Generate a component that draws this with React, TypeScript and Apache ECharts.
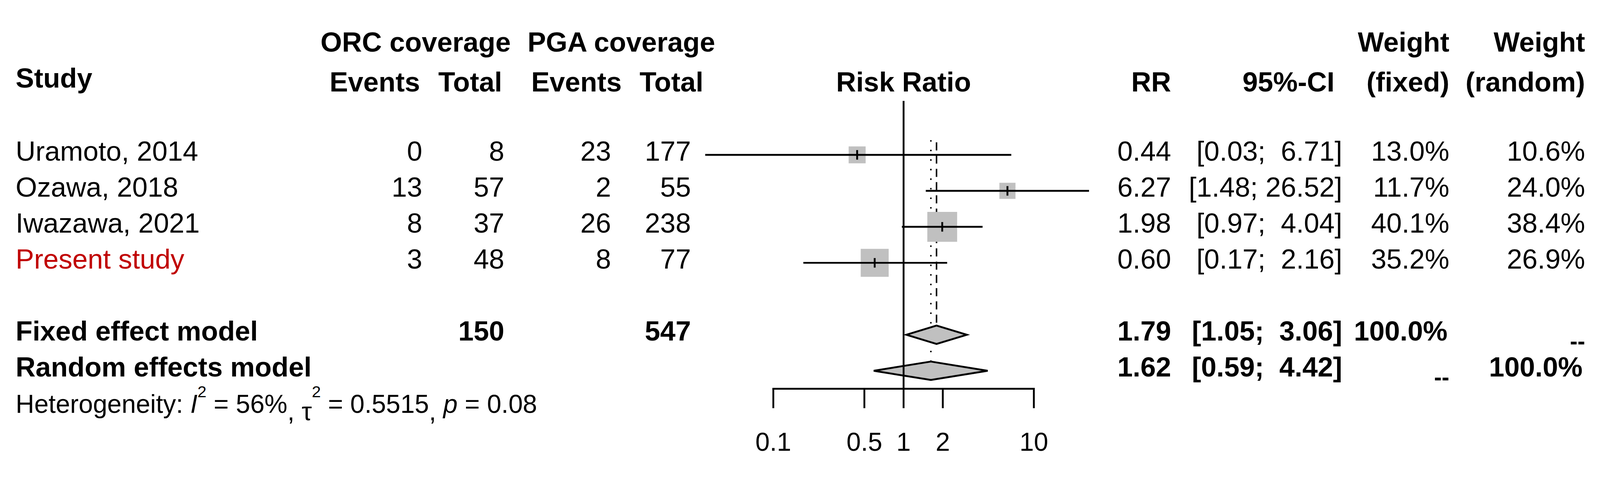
import React, { useEffect, useRef } from "react";
import * as echarts from "echarts";

// ---------------- data ----------------
const studies = ["Uramoto, 2014", "Ozawa, 2018", "Iwazawa, 2021", "Present study"];
const studyColors = ["#000000", "#000000", "#000000", "#c00000"];
const orcEvents = [0, 13, 8, 3];
const orcTotal = [8, 57, 37, 48];
const pgaEvents = [23, 2, 26, 8];
const pgaTotal = [177, 55, 238, 77];
const riskRatio = [0.44, 6.27, 1.98, 0.6];
const ciLower = [0.03, 1.48, 0.97, 0.17];
const ciUpper = [6.71, 26.52, 4.04, 2.16];
const weightFixed = [13.0, 11.7, 40.1, 35.2];
const weightRandom = [10.6, 24.0, 38.4, 26.9];

const modelLabels = ["Fixed effect model", "Random effects model"];
const modelRR = [1.79, 1.62];
const modelLower = [1.05, 0.59];
const modelUpper = [3.06, 4.42];
const modelWeightFixed = ["100.0%", "--"];
const modelWeightRandom = ["--", "100.0%"];
const totalORC = 150;
const totalPGA = 547;

const axisTicks = [0.1, 0.5, 1, 2, 10];
const axisTickLabels = ["0.1", "0.5", "1", "2", "10"];
const nullValue = 1;

const hetI2 = "56%";
const hetTau2 = "0.5515";
const hetP = "0.08";

// ---------------- layout (reference pixels, 4348 x 1261) ----------------
const REF_W = 4348;
const REF_H = 1261;
const FONT = '"Liberation Sans", Arial, Helvetica, sans-serif';
const NB = "\u00a0";
const studyRows = [0, 1, 2, 3];
const modelRows = [5, 6];
const ROW_GROUP = -3.03;
const ROW_HEAD = -1.92;
const ROW_STUDY_HEAD = -2.03;
const ROW_HET = 7.02;
const AXIS_ROW = 6.5;
const TICK_END = 7.04;
const TICK_LABEL_ROW = 7.97;
const TEXT_DY = -10;
const DASH_DY = 27;
const DASH_FS = 62;

const COL = {
  study: 34,
  orcEv: 1139,
  orcTot: 1362,
  pgaEv: 1652,
  pgaTot: 1869,
  orcHdrEv: 1133,
  orcHdrTot: 1356,
  pgaHdrEv: 1681,
  pgaHdrTot: 1903,
  orcGroup: 1121,
  pgaGroup: 1680,
  riskRatio: 2447,
  rr: 3174,
  ci: 3639,
  ciHdr: 3618,
  wf: 3930,
  wr: 4299,
  wfBold: 3925,
  wrBold: 4292,
};

function padNB(s: string, n: number) {
  let r = s;
  while (r.length < n) r = NB + r;
  return r;
}
function fmtCI(lo: number, hi: number) {
  return "[" + padNB(lo.toFixed(2), 4) + ";" + NB + padNB(hi.toFixed(2), 5) + "]";
}

type Cell = {
  text: string;
  x: number;
  align: "left" | "right" | "center";
  row: number;
  bold?: boolean;
  color?: string;
  dy?: number;
  size?: number;
  het?: boolean;
};

const cells: Cell[] = [];
cells.push({ text: "ORC coverage", x: COL.orcGroup, align: "center", row: ROW_GROUP, bold: true });
cells.push({ text: "PGA coverage", x: COL.pgaGroup, align: "center", row: ROW_GROUP, bold: true });
cells.push({ text: "Weight", x: COL.wf, align: "right", row: ROW_GROUP, bold: true });
cells.push({ text: "Weight", x: COL.wr, align: "right", row: ROW_GROUP, bold: true });
cells.push({ text: "Study", x: COL.study, align: "left", row: ROW_STUDY_HEAD, bold: true });
cells.push({ text: "Events", x: COL.orcHdrEv, align: "right", row: ROW_HEAD, bold: true });
cells.push({ text: "Total", x: COL.orcHdrTot, align: "right", row: ROW_HEAD, bold: true });
cells.push({ text: "Events", x: COL.pgaHdrEv, align: "right", row: ROW_HEAD, bold: true });
cells.push({ text: "Total", x: COL.pgaHdrTot, align: "right", row: ROW_HEAD, bold: true });
cells.push({ text: "Risk Ratio", x: COL.riskRatio, align: "center", row: ROW_HEAD, bold: true });
cells.push({ text: "RR", x: COL.rr, align: "right", row: ROW_HEAD, bold: true });
cells.push({ text: "95%-CI", x: COL.ciHdr, align: "right", row: ROW_HEAD, bold: true });
cells.push({ text: "(fixed)", x: COL.wf, align: "right", row: ROW_HEAD, bold: true });
cells.push({ text: "(random)", x: COL.wr, align: "right", row: ROW_HEAD, bold: true });

studies.forEach((s, i) => {
  const r = studyRows[i];
  cells.push({ text: s, x: COL.study, align: "left", row: r, color: studyColors[i] });
  cells.push({ text: String(orcEvents[i]), x: COL.orcEv, align: "right", row: r });
  cells.push({ text: String(orcTotal[i]), x: COL.orcTot, align: "right", row: r });
  cells.push({ text: String(pgaEvents[i]), x: COL.pgaEv, align: "right", row: r });
  cells.push({ text: String(pgaTotal[i]), x: COL.pgaTot, align: "right", row: r });
  cells.push({ text: riskRatio[i].toFixed(2), x: COL.rr, align: "right", row: r });
  cells.push({ text: fmtCI(ciLower[i], ciUpper[i]), x: COL.ci, align: "right", row: r });
  cells.push({ text: weightFixed[i].toFixed(1) + "%", x: COL.wf, align: "right", row: r });
  cells.push({ text: weightRandom[i].toFixed(1) + "%", x: COL.wr, align: "right", row: r });
});

modelLabels.forEach((m, i) => {
  const r = modelRows[i];
  cells.push({ text: m, x: COL.study, align: "left", row: r, bold: true });
  cells.push({ text: modelRR[i].toFixed(2), x: COL.rr, align: "right", row: r, bold: true });
  cells.push({ text: fmtCI(modelLower[i], modelUpper[i]), x: COL.ci, align: "right", row: r, bold: true });
  const wf = modelWeightFixed[i];
  const wr = modelWeightRandom[i];
  const dashF = wf === "--";
  const dashR = wr === "--";
  cells.push({ text: wf, x: dashF ? COL.wf : COL.wfBold, align: "right", row: r, bold: true, dy: dashF ? DASH_DY : 0, size: dashF ? DASH_FS : undefined });
  cells.push({ text: wr, x: dashR ? COL.wr : COL.wrBold, align: "right", row: r, bold: true, dy: dashR ? DASH_DY : 0, size: dashR ? DASH_FS : undefined });
});
cells.push({ text: String(totalORC), x: COL.orcTot, align: "right", row: modelRows[0], bold: true });
cells.push({ text: String(totalPGA), x: COL.pgaTot, align: "right", row: modelRows[0], bold: true });

cells.push({
  text:
    "{n|Heterogeneity:" + NB + "}{i|I}{s|2}{n|" + NB + "=" + NB + hetI2 + "}{c|,}{n|" + NB + "}{t|τ}{s|2}{n|" +
    NB + "=" + NB + hetTau2 + "}{c|,}{n|" + NB + "}{i|p}{n|" + NB + "=" + NB + hetP + "}",
  x: COL.study,
  align: "left",
  row: ROW_HET,
  het: true,
});

// ---------------- chart ----------------
const X_ONE = 2447;
const DECADE = 354;
const Y_ZERO = 412;
const ROW_H = 97.7;
const Y_MIN = -4;
const Y_MAX = 8.5;
const SQUARE_K = 12.8;
const LW = 5;
const FS = 75;

function buildOption(s: number) {
  const lw = LW * s;
  const hetRich = {
    n: { fontSize: 70 * s, lineHeight: 110 * s, fontFamily: FONT, color: "#000" },
    i: { fontSize: 70 * s, lineHeight: 110 * s, fontFamily: FONT, fontStyle: "italic", color: "#000" },
    s: { fontSize: 44 * s, lineHeight: 60 * s, fontFamily: FONT, verticalAlign: "top", color: "#000" },
    c: { fontSize: 70 * s, lineHeight: 70 * s, fontFamily: FONT, verticalAlign: "bottom", color: "#000" },
    t: { fontSize: 70 * s, lineHeight: 80 * s, fontFamily: FONT, verticalAlign: "bottom", color: "#000" },
  };
  const lineSeries = (data: any[], dashFor: (i: number) => number[] | null, width: number) => ({
    type: "custom",
    coordinateSystem: "cartesian2d",
    silent: true,
    clip: false,
    data,
    renderItem: (params: any, api: any) => {
      const p1 = api.coord([api.value(0), api.value(1)]);
      const p2 = api.coord([api.value(0), api.value(2)]);
      const dash = dashFor(params.dataIndex);
      const style: any = { stroke: "#000", lineWidth: width };
      if (dash) style.lineDash = dash;
      return { type: "line", shape: { x1: p1[0], y1: p1[1], x2: p2[0], y2: p2[1] }, style };
    },
  });

  return {
    animation: false,
    backgroundColor: "#ffffff",
    grid: {
      left: (X_ONE - 2 * DECADE) * s,
      width: 4 * DECADE * s,
      top: (Y_ZERO + Y_MIN * ROW_H) * s,
      height: (Y_MAX - Y_MIN) * ROW_H * s,
    },
    xAxis: { type: "log", logBase: 10, min: 0.01, max: 100, show: false },
    yAxis: { type: "value", min: Y_MIN, max: Y_MAX, inverse: true, show: false },
    tooltip: { show: false },
    series: [
      // pooled estimates: dashed (fixed), dotted (random)
      lineSeries(
        modelRR.map((v, i) => [v, -0.35 - 0.06 * i, modelRows[i] - 0.256]),
        (i) => (i === 0 ? [22 * s, 14 * s] : [4 * s, 22 * s]),
        4 * s
      ),
      // studies
      {
        type: "custom",
        coordinateSystem: "cartesian2d",
        silent: true,
        clip: false,
        data: studies.map((_, i) => [riskRatio[i], studyRows[i], ciLower[i], ciUpper[i], weightFixed[i]]),
        renderItem: (params: any, api: any) => {
          const row = api.value(1);
          const c = api.coord([api.value(0), row]);
          const lo = api.coord([api.value(2), row]);
          const hi = api.coord([api.value(3), row]);
          const side = SQUARE_K * Math.sqrt(api.value(4)) * s;
          return {
            type: "group",
            children: [
              {
                type: "rect",
                shape: { x: c[0] - side / 2, y: c[1] - side / 2, width: side, height: side },
                style: { fill: "#c0c0c0" },
              },
              {
                type: "line",
                shape: { x1: lo[0], y1: c[1], x2: hi[0], y2: c[1] },
                style: { stroke: "#000", lineWidth: lw },
              },
              {
                type: "line",
                shape: { x1: c[0], y1: c[1] - 13 * s, x2: c[0], y2: c[1] + 13 * s },
                style: { stroke: "#000", lineWidth: lw },
              },
            ],
          };
        },
      },
      // diamonds
      {
        type: "custom",
        coordinateSystem: "cartesian2d",
        silent: true,
        clip: false,
        data: modelRR.map((v, i) => [v, modelRows[i], modelLower[i], modelUpper[i]]),
        renderItem: (params: any, api: any) => {
          const row = api.value(1);
          const c = api.coord([api.value(0), row]);
          const lo = api.coord([api.value(2), row]);
          const hi = api.coord([api.value(3), row]);
          const top = api.coord([api.value(0), row - 0.256]);
          const bot = api.coord([api.value(0), row + 0.256]);
          return {
            type: "polygon",
            shape: { points: [[lo[0], c[1]], [top[0], top[1]], [hi[0], c[1]], [bot[0], bot[1]]] },
            style: { fill: "#c0c0c0", stroke: "#000", lineWidth: lw, lineJoin: "miter" },
          };
        },
      },
      // null line
      lineSeries([[nullValue, -1.5, AXIS_ROW]], () => null, lw),
      // axis
      {
        type: "custom",
        coordinateSystem: "cartesian2d",
        silent: true,
        clip: false,
        data: axisTicks.map((t) => [t, AXIS_ROW]),
        renderItem: (params: any, api: any) => {
          const i = params.dataIndex;
          const p = api.coord([api.value(0), AXIS_ROW]);
          const pe = api.coord([api.value(0), TICK_END]);
          const pl = api.coord([api.value(0), TICK_LABEL_ROW]);
          const children: any[] = [
            {
              type: "line",
              shape: { x1: p[0], y1: p[1], x2: pe[0], y2: pe[1] },
              style: { stroke: "#000", lineWidth: lw },
            },
            {
              type: "text",
              x: pl[0],
              y: pl[1],
              style: {
                text: axisTickLabels[i],
                fill: "#000",
                fontSize: 70 * s,
                fontFamily: FONT,
                align: "center",
                verticalAlign: "middle",
                textAlign: "center",
                textVerticalAlign: "middle",
              },
            },
          ];
          if (i === 0) {
            const a = api.coord([axisTicks[0], AXIS_ROW]);
            const b = api.coord([axisTicks[axisTicks.length - 1], AXIS_ROW]);
            children.push({
              type: "line",
              shape: { x1: a[0] - lw / 2, y1: a[1], x2: b[0] + lw / 2, y2: b[1] },
              style: { stroke: "#000", lineWidth: lw },
            });
          }
          return { type: "group", children };
        },
      },
      // table text
      {
        type: "custom",
        coordinateSystem: "cartesian2d",
        silent: true,
        clip: false,
        data: cells.map((c) => [1, c.row]),
        renderItem: (params: any, api: any) => {
          const c = cells[params.dataIndex];
          const y = api.coord([1, c.row])[1] + (TEXT_DY + (c.dy || 0)) * s;
          const style: any = {
            text: c.text,
            fill: c.color || "#000",
            fontSize: (c.het ? 70 : c.size || FS) * s,
            fontFamily: FONT,
            fontWeight: c.bold ? "bold" : "normal",
            align: c.align,
            verticalAlign: "middle",
            textAlign: c.align,
            textVerticalAlign: "middle",
          };
          if (c.het) style.rich = hetRich;
          return { type: "text", x: c.x * s, y, style };
        },
      },
    ],
  };
}

export default function App() {
  const ref = useRef<HTMLDivElement>(null);
  useEffect(() => {
    const el = ref.current;
    if (!el) return;
    const w = el.clientWidth || REF_W;
    const s = w / REF_W;
    const h = Math.round(REF_H * s);
    el.style.height = h + "px";
    const chart = echarts.init(el, undefined, { renderer: "svg", width: w, height: h });
    chart.setOption(buildOption(s) as any);
    return () => {
      chart.dispose();
    };
  }, []);
  return (
    <div
      ref={ref}
      style={{
        position: "fixed",
        left: 0,
        top: 0,
        width: "100vw",
        height: 1261,
        overflow: "hidden",
        background: "#ffffff",
      }}
    />
  );
}
